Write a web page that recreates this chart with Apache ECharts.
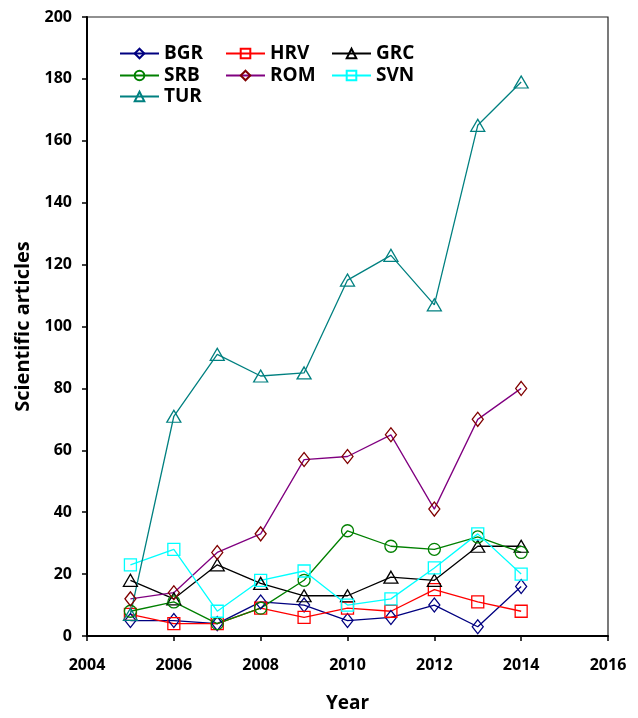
<!DOCTYPE html>
<html>
<head>
<meta charset="utf-8">
<script src="https://cdn.jsdelivr.net/npm/echarts@6/dist/echarts.min.js"></script>
<style>
  html, body { margin: 0; padding: 0; background: #fff; }
  #chart { width: 638px; height: 718px; }
</style>
</head>
<body>
<div id="chart"></div>
<script>
// Yearly counts of scientific articles by country
const years = [2005, 2006, 2007, 2008, 2009, 2010, 2011, 2012, 2013, 2014];
const BGR = [5, 5, 4, 11, 10, 5, 6, 10, 3, 16];
const HRV = [7, 4, 4, 9, 6, 9, 8, 15, 11, 8];
const GRC = [18, 12, 23, 17, 13, 13, 19, 18, 29, 29];
const SRB = [8, 11, 4, 9, 18, 34, 29, 28, 32, 27];
const ROM = [12, 14, 27, 33, 57, 58, 65, 41, 70, 80];
const SVN = [23, 28, 8, 18, 21, 10, 12, 22, 33, 20];
const TUR = [7, 71, 91, 84, 85, 115, 123, 107, 165, 179];

const countries = ['BGR', 'HRV', 'GRC', 'SRB', 'ROM', 'SVN', 'TUR'];
const values = { BGR, HRV, GRC, SRB, ROM, SVN, TUR };

const styles = {
  BGR: { line: '#000080', mark: '#000080', symbol: 'diamond', size: [11, 14] },
  HRV: { line: '#ff0000', mark: '#ff0000', symbol: 'rect', size: 12 },
  GRC: { line: '#000000', mark: '#000000', symbol: 'triangle', size: [14, 12] },
  SRB: { line: '#008000', mark: '#008000', symbol: 'circle', size: 12 },
  ROM: { line: '#800080', mark: '#800000', symbol: 'diamond', size: [11, 14] },
  SVN: { line: '#00ffff', mark: '#00ffff', symbol: 'rect', size: 12 },
  TUR: { line: '#008080', mark: '#008080', symbol: 'triangle', size: [14, 12] }
};

// Legend slots: three columns, three rows
const legendPos = {
  BGR: [119, 44], HRV: [225, 44], GRC: [331, 44],
  SRB: [119, 66], ROM: [225, 66], SVN: [331, 66],
  TUR: [119, 87]
};

const boldFont = { fontFamily: 'Open Sans', fontWeight: 'bold', color: '#000' };

const series = countries.map(name => ({
  name,
  type: 'line',
  data: years.map((y, i) => [y, values[name][i]]),
  symbol: styles[name].symbol,
  symbolSize: styles[name].size,
  showAllSymbol: true,
  lineStyle: { color: styles[name].line, width: 1.3 },
  itemStyle: { color: 'rgba(255,255,255,0)', borderColor: styles[name].mark, borderWidth: 1.3 },
  emphasis: { disabled: true },
  animation: false
}));

const legends = countries.map(name => ({
  data: [name],
  left: legendPos[name][0],
  top: legendPos[name][1],
  padding: 0,
  itemWidth: 39,
  itemHeight: 12,
  itemGap: 0,
  textStyle: Object.assign({ fontSize: 19 }, boldFont),
  selectedMode: false
}));

const chart = echarts.init(document.getElementById('chart'), null, { renderer: 'canvas' });
chart.setOption({
  backgroundColor: '#fff',
  animation: false,
  grid: {
    left: 87, right: 30, top: 17, bottom: 79,
    show: true, borderColor: '#222', borderWidth: 1.2, backgroundColor: 'transparent'
  },
  legend: legends,
  xAxis: {
    type: 'value', min: 2004, max: 2016, interval: 2,
    name: 'Year', nameLocation: 'middle', nameGap: 58,
    nameTextStyle: Object.assign({ fontSize: 19 }, boldFont),
    axisLine: { show: true, onZero: false, lineStyle: { color: '#000', width: 2 } },
    axisTick: { show: true, inside: false, length: 5, lineStyle: { color: '#000', width: 1.5 } },
    axisLabel: Object.assign({ fontSize: 16, margin: 21, formatter: v => String(v) }, boldFont),
    splitLine: { show: false }
  },
  yAxis: {
    type: 'value', min: 0, max: 200, interval: 20,
    name: 'Scientific articles', nameLocation: 'middle', nameGap: 46, nameRotate: 90,
    nameTextStyle: Object.assign({ fontSize: 20 }, boldFont),
    axisLine: { show: true, lineStyle: { color: '#000', width: 2 } },
    axisTick: { show: true, inside: false, length: 5, lineStyle: { color: '#000', width: 1.5 } },
    axisLabel: Object.assign({ fontSize: 16, margin: 15 }, boldFont),
    splitLine: { show: false }
  },
  series
});
</script>
</body>
</html>
